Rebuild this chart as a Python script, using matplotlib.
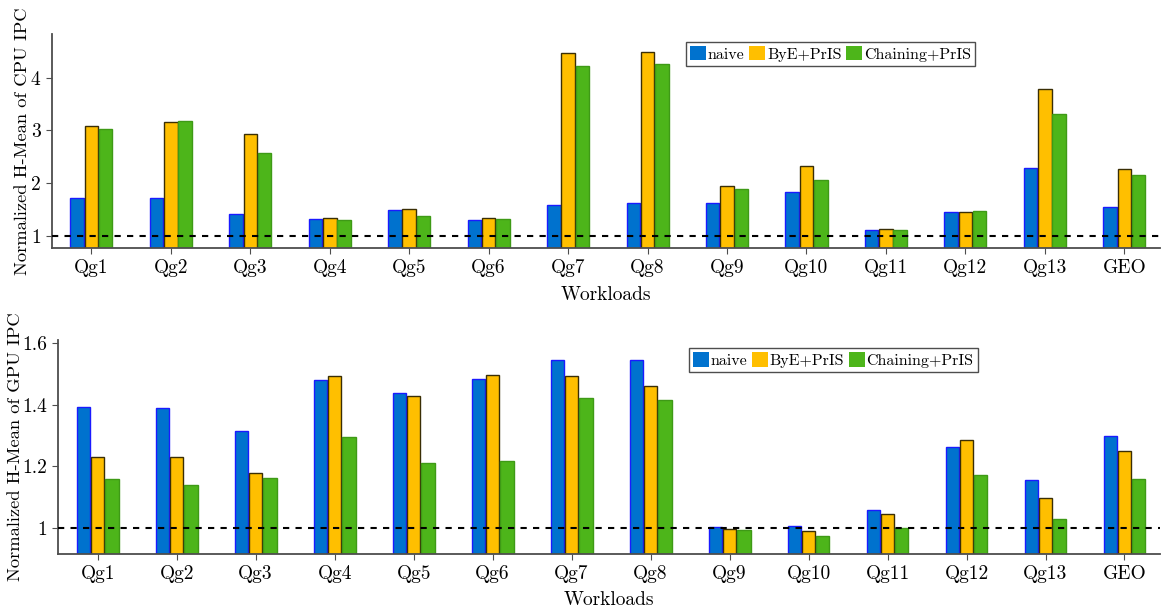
import numpy as np
import matplotlib
matplotlib.use('Agg')
import matplotlib.pyplot as plt

plt.rcParams['font.family'] = ['cmr10', 'DejaVu Serif']
plt.rcParams['axes.formatter.use_mathtext'] = True
plt.rcParams['mathtext.fontset'] = 'cm'

workloads = ['Qg1', 'Qg2', 'Qg3', 'Qg4', 'Qg5', 'Qg6', 'Qg7', 'Qg8', 'Qg9',
             'Qg10', 'Qg11', 'Qg12', 'Qg13', 'GEO']
series = ['naive', 'ByE+PrIS', 'Chaining+PrIS']

# CPU IPC (top)
cpu_naive = [1.71, 1.71, 1.41, 1.31, 1.49, 1.30, 1.59, 1.62, 1.62, 1.83, 1.11, 1.44, 2.29, 1.55]
cpu_bye = [3.08, 3.16, 2.93, 1.34, 1.51, 1.33, 4.47, 4.49, 1.95, 2.33, 1.12, 1.44, 3.78, 2.26]
cpu_chain = [3.03, 3.17, 2.57, 1.30, 1.37, 1.32, 4.23, 4.26, 1.88, 2.05, 1.10, 1.46, 3.32, 2.16]

# GPU IPC (bottom)
gpu_naive = [1.392, 1.389, 1.313, 1.479, 1.438, 1.484, 1.546, 1.546, 1.002, 1.005, 1.059, 1.264, 1.154, 1.298]
gpu_bye = [1.230, 1.230, 1.179, 1.491, 1.428, 1.495, 1.492, 1.460, 0.996, 0.990, 1.045, 1.284, 1.096, 1.248]
gpu_chain = [1.160, 1.140, 1.161, 1.295, 1.209, 1.216, 1.421, 1.415, 0.992, 0.973, 0.999, 1.172, 1.029, 1.160]

face_colors = ['#0072CE', '#FFBF00', '#4DB51A']
edge_colors = ['#1a1aff', '#3a2e05', '#3e9a16']
axis_color = '#4d4d4d'


def bar_panel(ax, data, ylabel, ylims, yticks, yticklabels, leg_anchor, ylabel_x):
    x = np.arange(1, len(workloads) + 1)
    width = 0.17
    offsets = [-0.18, 0.0, 0.18]
    for ii in range(len(series)):
        ax.bar(x + offsets[ii], data[ii], width, bottom=0, color=face_colors[ii],
               edgecolor=edge_colors[ii], linewidth=1.0, label=series[ii], zorder=2)
    ax.axhline(1.0, color='black', linestyle=(0, (3, 3)), linewidth=1.5, zorder=3)
    ax.set_xlim(0.5, 14.45)
    ax.set_ylim(ylims)
    ax.set_xticks(x)
    ax.set_xticklabels(workloads, fontsize=14)
    ax.set_yticks(yticks)
    ax.set_yticklabels(yticklabels, fontsize=14)
    ax.set_xlabel('Workloads', fontsize=14, labelpad=6)
    ax.set_ylabel(ylabel, fontsize=13.3)
    ax.yaxis.set_label_coords(ylabel_x, 0.5)
    for side in ['top', 'right']:
        ax.spines[side].set_visible(False)
    for side in ['left', 'bottom']:
        ax.spines[side].set_color(axis_color)
        ax.spines[side].set_linewidth(1.3)
    ax.tick_params(which='major', direction='out', length=4, width=0.8,
                   color=axis_color, pad=4)
    leg = ax.legend(ncol=3, loc='upper left', bbox_to_anchor=leg_anchor,
                    fontsize=11.5, frameon=True, fancybox=False, edgecolor='#222222',
                    handlelength=1.0, handleheight=1.0, handletextpad=0.1,
                    columnspacing=0.3, borderpad=0.25, borderaxespad=0)
    leg.get_frame().set_linewidth(1.0)
    for h in leg.legend_handles:
        h.set_edgecolor('none')


fig = plt.figure(figsize=(11.64, 6.10), dpi=100)
ax1 = fig.add_axes([0.0444, 0.593, 0.9522, 0.352])
ax2 = fig.add_axes([0.0500, 0.092, 0.9466, 0.351])

bar_panel(ax1, [cpu_naive, cpu_bye, cpu_chain], 'Normalized H-Mean of CPU IPC',
          (0.76, 4.84), [1, 2, 3, 4], ['1', '2', '3', '4'], (0.5725, 0.96), -0.0196)
bar_panel(ax2, [gpu_naive, gpu_bye, gpu_chain], 'Normalized H-Mean of GPU IPC',
          (0.916, 1.61), [1.0, 1.2, 1.4, 1.6], ['1', '1.2', '1.4', '1.6'], (0.5725, 0.96), -0.032)

plt.savefig('out.png', dpi=100)
plt.close()
